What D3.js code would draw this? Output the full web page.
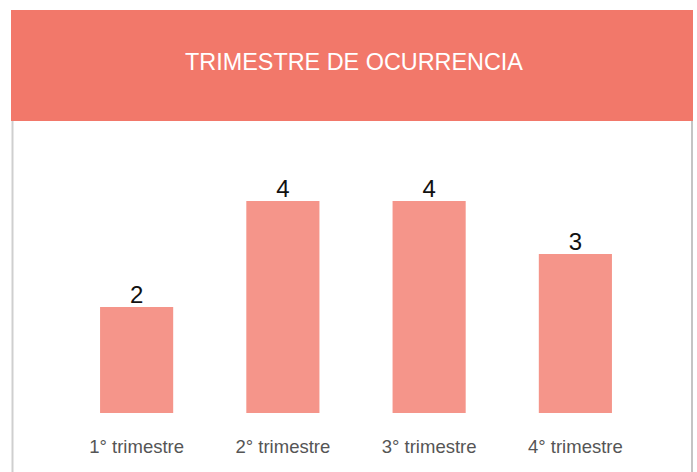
<!DOCTYPE html>
<html>
<head>
<meta charset="utf-8">
<script src="https://cdn.jsdelivr.net/npm/d3@7"></script>
<style>
  body { margin: 0; background: #fff; }
  svg { display: block; font-family: "Liberation Sans", Arial, sans-serif; }
</style>
</head>
<body>
<div id="chart"></div>
<script>
// data
var categories = ["1° trimestre", "2° trimestre", "3° trimestre", "4° trimestre"];
var values = [2, 4, 4, 3];
var title = "TRIMESTRE DE OCURRENCIA";

var width = 697, height = 472;

var svg = d3.select("#chart").append("svg")
    .attr("width", width)
    .attr("height", height);

// panel borders
svg.append("rect")
    .attr("x", 11.5).attr("y", 115)
    .attr("width", 2).attr("height", height - 115)
    .attr("fill", "#cfcfcf");
svg.append("rect")
    .attr("x", 691).attr("y", 115)
    .attr("width", 2).attr("height", height - 115)
    .attr("fill", "#c4c4c4");

// header band
svg.append("rect")
    .attr("x", 11).attr("y", 10)
    .attr("width", 682).attr("height", 111)
    .attr("fill", "#f2786a");

svg.append("text")
    .attr("x", 354).attr("y", 70)
    .attr("text-anchor", "middle")
    .attr("fill", "#fff")
    .style("font-size", "23.4px")
    .text(title);

// scales
var x = d3.scaleBand()
    .domain(categories)
    .range([63.5, 648.5])
    .paddingInner(0.5)
    .paddingOuter(0.25);

var y = d3.scaleLinear()
    .domain([0, 4])
    .range([413, 201]);

var bars = svg.append("g");

bars.selectAll("rect")
    .data(values)
    .enter().append("rect")
    .attr("x", function(d, i) { return x(categories[i]); })
    .attr("y", function(d) { return y(d); })
    .attr("width", x.bandwidth())
    .attr("height", function(d) { return y(0) - y(d); })
    .attr("fill", "#f5958a");

bars.selectAll("text")
    .data(values)
    .enter().append("text")
    .attr("x", function(d, i) { return x(categories[i]) + x.bandwidth() / 2; })
    .attr("y", function(d) { return y(d) - 4; })
    .attr("text-anchor", "middle")
    .attr("fill", "#111")
    .style("font-size", "24px")
    .text(function(d) { return d; });

// x axis labels (no line)
var xAxis = svg.append("g")
    .attr("transform", "translate(0,413)")
    .call(d3.axisBottom(x).tickSize(0).tickPadding(27));
xAxis.select(".domain").remove();
xAxis.selectAll("text")
    .attr("fill", "#555")
    .style("font-size", "18.5px")
    .style("font-family", "\"Liberation Sans\", Arial, sans-serif");
</script>
</body>
</html>
